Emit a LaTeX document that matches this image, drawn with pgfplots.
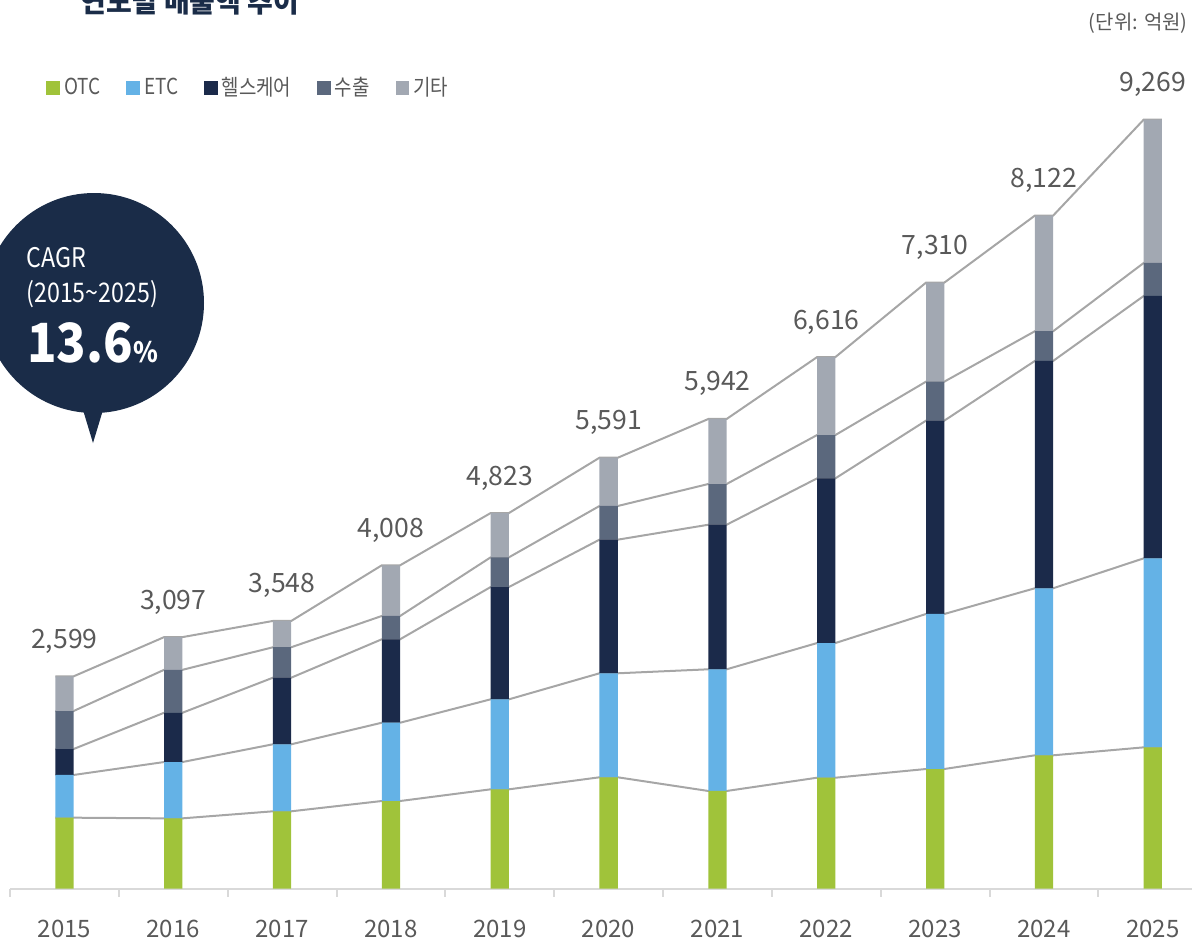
\documentclass[border=0pt]{standalone}
\usepackage{fontspec}
\setmainfont{Noto Sans CJK KR}
\newfontfamily\cond{Noto Sans CJK KR}[FakeStretch=0.86]
\newfontfamily\condb{Noto Sans CJK KR}[FakeStretch=0.9]
\usepackage{pgfplots}
\usepackage{pgfplotstable}
\pgfplotsset{compat=1.18}

\definecolor{otc}{HTML}{A0C33A}
\definecolor{etc}{HTML}{64B2E6}
\definecolor{hc}{HTML}{1B2A4A}
\definecolor{exp}{HTML}{5B687D}
\definecolor{oth}{HTML}{A2A8B2}
\definecolor{navy}{HTML}{1A2C48}
\definecolor{txt}{HTML}{595959}
\definecolor{axgray}{HTML}{D9D9D9}
\definecolor{lin}{HTML}{A6A6A6}

% sales by segment (100M KRW); each year twice: left (-1) and right (+1) bar edge
\pgfplotstableread{
yr side otc etc hc exp oth lbl
0 -1 854 515 313 458 418 2,599
0 1 854 515 313 458 418 2,599
1 -1 846 679 594 518 394 3,097
1 1 846 679 594 518 394 3,097
2 -1 931 808 803 367 317 3,548
2 1 931 808 803 367 317 3,548
3 -1 1055 944 1006 281 611 4,008
3 1 1055 944 1006 281 611 4,008
4 -1 1196 1085 1354 358 534 4,823
4 1 1196 1085 1354 358 534 4,823
5 -1 1341 1254 1611 406 582 5,591
5 1 1341 1254 1611 406 582 5,591
6 -1 1176 1467 1743 491 784 5,942
6 1 1176 1467 1743 491 784 5,942
7 -1 1336 1624 1986 522 940 6,616
7 1 1336 1624 1986 522 940 6,616
8 -1 1441 1869 2331 470 1194 7,310
8 1 1441 1869 2331 470 1194 7,310
9 -1 1606 2014 2741 358 1394 8,122
9 1 1606 2014 2741 358 1394 8,122
10 -1 1702 2279 3163 398 1728 9,269
10 1 1702 2279 3163 398 1728 9,269
}\sales

\pgfplotsset{
  base/.style={scale only axis, width=591pt, height=414.7pt,
    xmin=-0.5, xmax=10.36, ymin=0, ymax=10000, clip=false,
    at={(5pt,-444.25pt)}, anchor=south west},
  one/.style={restrict expr to domain={\thisrow{side}}{0:2}},
  sq/.style={fill=#1, draw=none,
    legend image code/.code={\fill[##1] (0pt,-3.4pt) rectangle (6.8pt,3.4pt);}},
  edge/.style={lin, line width=1pt, no markers},
}

\begin{document}
\begin{tikzpicture}[x=0.5pt, y=-0.5pt]
\useasboundingbox (0,0) rectangle (1192,949);
\clip (0,0) rectangle (1192,949);

% title (cut off at the top) and unit
\node[anchor=base west, inner sep=0, text=navy, font=\fontsize{14}{16}\selectfont\bfseries] at (80,12) {연도별 매출액 추이};
\node[anchor=base east, inner sep=0, text=txt, font=\fontsize{10}{12}\selectfont] at (1188,29) {(단위: 억원)};

% connecting lines
\begin{axis}[base, hide axis, stack plots=y]
  \addplot[edge] table[x expr=\thisrow{yr}+0.084*\thisrow{side}, y=otc] {\sales};
  \addplot[edge] table[x expr=\thisrow{yr}+0.084*\thisrow{side}, y=etc] {\sales};
  \addplot[edge] table[x expr=\thisrow{yr}+0.084*\thisrow{side}, y=hc] {\sales};
  \addplot[edge] table[x expr=\thisrow{yr}+0.084*\thisrow{side}, y=exp] {\sales};
  \addplot[edge] table[x expr=\thisrow{yr}+0.084*\thisrow{side}, y=oth] {\sales};
\end{axis}

% stacked bars
\begin{axis}[base,
  ybar stacked, bar width=0.168,
  axis x line=bottom, axis y line=none,
  x axis line style={-, draw=axgray, line width=1pt},
  xtick={0,1,2,3,4,5,6,7,8,9,10},
  xticklabels={2015,2016,2017,2018,2019,2020,2021,2022,2023,2024,2025},
  major tick length=0pt,
  extra x ticks={-0.5,0.5,1.5,2.5,3.5,4.5,5.5,6.5,7.5,8.5,9.5},
  extra x tick labels={},
  extra x tick style={major tick length=4pt, tick align=outside,
    tick style={draw=axgray, line width=1pt}},
  xticklabel style={font=\fontsize{12}{14}\selectfont, text=txt, anchor=base, yshift=-24.5pt},
  legend style={at={(0.0305,0.9652)}, anchor=west, draw=none, fill=none,
    inner sep=0pt, font=\cond\fontsize{11}{13}\selectfont, text=txt,
    legend columns=-1,
    /tikz/every even column/.append style={column sep=11pt}},
]
  \addplot[sq=otc] table[x=yr, y=otc, one] {\sales};
  \addplot[sq=etc] table[x=yr, y=etc, one] {\sales};
  \addplot[sq=hc] table[x=yr, y=hc, one] {\sales};
  \addplot[sq=exp] table[x=yr, y=exp, one] {\sales};
  \addplot[sq=oth] table[x=yr, y=oth, one] {\sales};
  \legend{OTC, ETC, 헬스케어, 수출, 기타}
\end{axis}

% totals above the bars
\begin{axis}[base, hide axis]
  \addplot[draw=none, no markers, nodes near coords,
    point meta=explicit symbolic,
    every node near coord/.append style={font=\fontsize{13.3}{15}\selectfont,
      text=txt, inner sep=0pt, anchor=base, yshift=14pt}]
    table[x=yr, y expr=\thisrow{otc}+\thisrow{etc}+\thisrow{hc}+\thisrow{exp}+\thisrow{oth},
      meta=lbl, one] {\sales};
\end{axis}

% CAGR bubble
\fill[navy] (94,303) circle[radius=110];
\fill[navy] (80,400) -- (106,400) -- (93,443) -- cycle;
\node[anchor=base west, inner sep=0, text=white, font=\cond\fontsize{13.5}{15}\selectfont] at (26,267) {CAGR};
\node[anchor=base west, inner sep=0, text=white, font=\cond\fontsize{13.5}{15}\selectfont] at (26,302) {(2015\textasciitilde 2025)};
\node[anchor=base west, inner sep=0, text=white, font=\condb\fontsize{27}{30}\selectfont\bfseries] at (27,362) {13.6{\fontsize{14}{16}\selectfont\%}};
\end{tikzpicture}
\end{document}
